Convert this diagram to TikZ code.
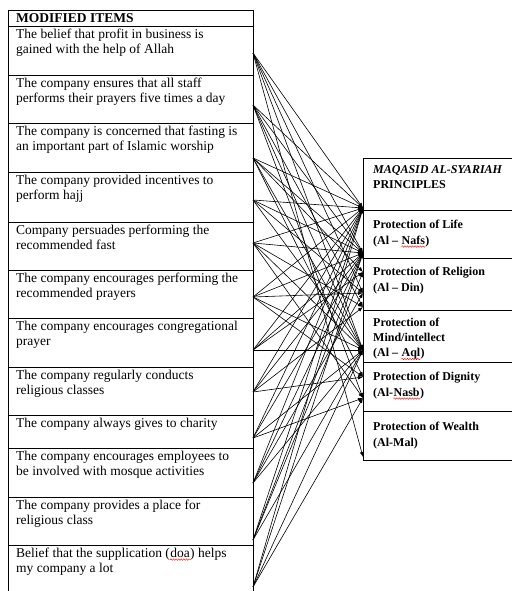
\documentclass[tikz,border=0pt]{standalone}
\usepackage{fontspec}
\setmainfont{Liberation Serif}
\usetikzlibrary{arrows.meta,decorations.pathmorphing}
\newcommand\sqg[2]{\tikz[baseline=(#1.base)]{\node[inner sep=0pt](#1){#2};\draw[red,line width=0.4pt,decorate,decoration={snake,amplitude=0.8pt,segment length=2.6pt}]([yshift=-2.4pt]#1.base west)--([yshift=-2.4pt]#1.base east);}}
\begin{document}
\begin{tikzpicture}[x=1pt,y=-1pt,
  lbox/.style={draw,line width=0.8pt,anchor=north west,minimum width=245pt,inner sep=0pt},
  rbox/.style={draw,line width=0.8pt,anchor=north west,minimum width=152pt,inner sep=0pt},
  ltxt/.style={anchor=north west,inner sep=0pt,align=left,font=\fontsize{13.5}{15}\selectfont},
  rtxt/.style={anchor=north west,inner sep=0pt,align=left,font=\fontsize{12}{15.5}\selectfont\bfseries},
  conn/.style={line width=0.6pt,-{Latex[length=5pt,width=3.8pt]}}]
\useasboundingbox (0,0) rectangle (511,591);
% left table
\node[lbox,minimum height=16pt] (lh) at (8,10) {};
\node[lbox,minimum height=49pt] (l1) at (8,26) {};
\node[lbox,minimum height=48pt] (l2) at (8,75) {};
\node[lbox,minimum height=49pt] (l3) at (8,123) {};
\node[lbox,minimum height=50pt] (l4) at (8,172) {};
\node[lbox,minimum height=48pt] (l5) at (8,222) {};
\node[lbox,minimum height=48pt] (l6) at (8,270) {};
\node[lbox,minimum height=49pt] (l7) at (8,318) {};
\node[lbox,minimum height=48pt] (l8) at (8,367) {};
\node[lbox,minimum height=33pt] (l9) at (8,415) {};
\node[lbox,minimum height=49pt] (l10) at (8,448) {};
\node[lbox,minimum height=48pt] (l11) at (8,497) {};
\node[lbox,minimum height=60pt] (l12) at (8,545) {};
\node[ltxt,font=\fontsize{13.5}{15}\selectfont\bfseries] (th) at (16,13) {MODIFIED ITEMS};
\node[ltxt] (t1) at (16,28.5) {The belief that profit in business is\\gained with the help of Allah};
\node[ltxt] (t2) at (16,77.5) {The company ensures that all staff\\performs their prayers five times a day};
\node[ltxt] (t3) at (16,125.5) {The company is concerned that fasting is\\an important part of Islamic worship};
\node[ltxt] (t4) at (16,174.5) {The company provided incentives to\\perform hajj};
\node[ltxt] (t5) at (16,224.5) {Company persuades performing the\\recommended fast};
\node[ltxt] (t6) at (16,272.5) {The company encourages performing the\\recommended prayers};
\node[ltxt] (t7) at (16,320.5) {The company encourages congregational\\prayer};
\node[ltxt] (t8) at (16,369.5) {The company regularly conducts\\religious classes};
\node[ltxt] (t9) at (16,417.5) {The company always gives to charity};
\node[ltxt] (t10) at (16,450.5) {The company encourages employees to\\be involved with mosque activities};
\node[ltxt] (t11) at (16,499.5) {The company provides a place for\\religious class};
\node[ltxt] (t12) at (16,547.5) {Belief that the supplication (\sqg{wdoa}{doa}) helps\\my company a lot};
% right table
\node[rbox,minimum height=52pt] (rh) at (363,158) {};
\node[rbox,minimum height=48pt] (rl) at (363,210) {};
\node[rbox,minimum height=52pt] (rr) at (363,258) {};
\node[rbox,minimum height=52pt] (rm) at (363,310) {};
\node[rbox,minimum height=49pt] (rd) at (363,362) {};
\node[rbox,minimum height=49pt] (rw) at (363,411) {};
\node[rtxt] (uh) at (373,165) {\itshape MAQASID AL-SYARIAH\\PRINCIPLES};
\node[rtxt] (ul) at (373,220) {Protection of Life\\(Al -- \sqg{wnafs}{Nafs})};
\node[rtxt] (ur) at (373,267) {Protection of Religion\\(Al -- Din)};
\node[rtxt,font=\fontsize{12}{15}\selectfont\bfseries] (um) at (373,318) {Protection of\\Mind/intellect\\(Al -- \sqg{waql}{Aql})};
\node[rtxt] (ud) at (373,372) {Protection of Dignity\\(Al-\sqg{wnasb}{Nasb})};
\node[rtxt] (uw) at (373,422) {Protection of Wealth\\(Al-Mal)};
% sources
\coordinate (s1) at (253,53);
\coordinate (s2) at (253,105);
\coordinate (s3) at (253,158);
\coordinate (s4) at (253,200);
\coordinate (s5) at (253,243);
\coordinate (s6) at (253,297);
\coordinate (s7) at (253,350);
\coordinate (s8) at (253,392);
\coordinate (s9) at (253,438);
\coordinate (s10) at (253,483);
\coordinate (s11) at (253,540);
\coordinate (s12) at (253,587);
% targets
\coordinate (g1) at (363,208);
\coordinate (g2) at (363,253);
\coordinate (g3) at (363,272);
\coordinate (g4) at (363,293);
\coordinate (g5) at (363,307);
\coordinate (g6) at (363,350);
\coordinate (g7) at (363,377);
\coordinate (g8) at (363,398);
\coordinate (g9) at (363,457);
\foreach \s/\t in {1/1,1/2,1/4,1/6,1/9,
  2/1,2/2,2/5,2/6,2/8,
  3/1,3/2,3/3,3/6,3/7,
  4/1,4/2,4/4,4/6,
  5/1,5/2,5/5,5/6,5/8,
  6/1,6/2,6/4,6/6,6/7,
  7/1,7/2,7/3,7/6,
  8/1,8/2,8/5,8/7,
  9/1,9/2,9/6,9/8,
  10/1,10/2,10/4,10/6,
  11/1,11/2,11/3,11/6,
  12/1,12/2,12/6,12/8}
  \draw[conn] (s\s) -- (g\t);
\end{tikzpicture}
\end{document}
